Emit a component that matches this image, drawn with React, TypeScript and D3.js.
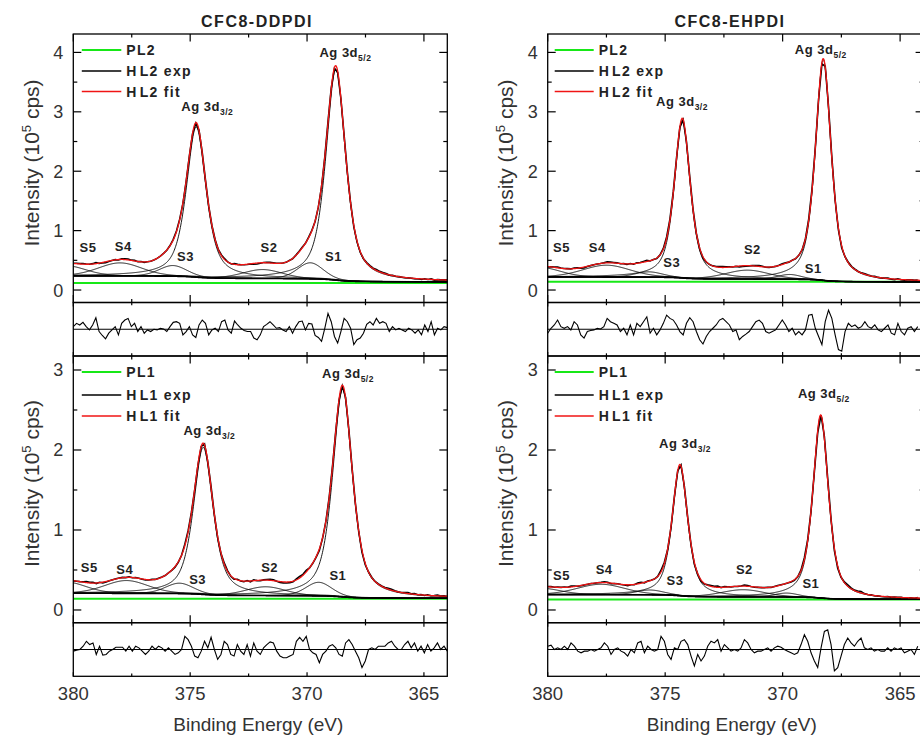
import React from "react";
import * as d3 from "d3";

const panelTitles = ["CFC8-DDPDI", "CFC8-EHPDI"];
const legendTop = ["PL2", "HL2 exp", "HL2 fit"];
const legendBottom = ["PL1", "HL1 exp", "HL1 fit"];
const xMajorTicks = [380, 375, 370, 365];
const xMinorTicks = [377.5, 372.5, 367.5];
const yMajorTop = [0, 1, 2, 3, 4];
const yMinorTop = [0.5, 1.5, 2.5, 3.5];
const yMajorBottom = [0, 1, 2, 3];
const yMinorBottom = [0.5, 1.5, 2.5];
// order: Ag 3d5/2, Ag 3d3/2, S1, S2, S3, S4, S5
const peakNames = ["Ag 3d", "Ag 3d", "S1", "S2", "S3", "S4", "S5"];
const peakSubs = ["5/2", "3/2", "", "", "", "", ""];

// CFC8-DDPDI, HL2
const ddHL2Center = [368.77, 374.74, 369.86, 371.9, 375.74, 378.0, 380.3];
const ddHL2Height = [3.55, 2.53, 0.27, 0.15, 0.18, 0.22, 0.17];
const ddHL2Fwhm = [1.0, 1.0, 1.3, 2.0, 1.4, 2.2, 2.0];
const ddHL2Background = [0.135, 0.06, 0.045];
const ddPL2 = 0.12;
const ddHL2LabelX = [369.47, 375.38, 368.87, 371.63, 375.2, 377.86, 379.37];
const ddHL2LabelY = [3.92, 3.01, 0.49, 0.64, 0.49, 0.66, 0.64];
const ddHL2Residual = [8,18,13,21,8,-2,13,35,-7,-19,-29,-12,-2,8,-17,18,28,33,8,18,-7,8,-12,-2,-7,0,-2,3,1,-7,8,21,23,18,-17,-7,8,-17,-25,13,28,18,-17,-2,3,-7,23,28,-2,-12,25,13,3,-4,-7,-7,-27,-32,-17,8,15,23,13,3,5,-2,-7,8,-12,8,23,25,-2,18,16,-19,-25,-37,3,48,23,-22,-42,-7,33,23,3,-47,-32,-27,-12,15,23,13,33,18,23,18,-7,8,-2,3,-2,-7,3,-2,-12,-2,-17,13,-7,23,-17,3,-2,8,5];

// CFC8-EHPDI, HL2
const ehHL2Center = [368.27, 374.27, 369.7, 371.5, 375.7, 377.5, 380.3];
const ehHL2Height = [3.72, 2.66, 0.08, 0.15, 0.09, 0.2, 0.16];
const ehHL2Fwhm = [0.8, 0.8, 1.2, 2.2, 1.4, 2.4, 2.0];
const ehHL2Background = [0.135, 0.05, 0.035];
const ehPL2 = 0.14;
const ehHL2LabelX = [369.48, 375.39, 368.7, 371.29, 374.72, 377.89, 379.41];
const ehHL2LabelY = [3.98, 3.1, 0.29, 0.61, 0.39, 0.64, 0.64];
const ehHL2Residual = [-12,3,13,28,8,3,8,-2,23,13,-17,-27,-7,-4,-2,3,1,8,33,23,18,13,-7,3,-17,13,-17,18,8,23,38,-12,3,-17,-2,18,43,33,28,13,-7,-17,18,35,23,-7,-32,-45,-22,-7,3,13,28,33,23,13,-7,-2,-32,-22,-15,-7,8,23,28,18,-7,-12,-7,-2,13,28,13,-7,3,-17,-7,-17,-2,43,45,3,-22,-47,23,58,33,-17,-62,-67,-7,18,8,13,3,8,23,8,3,13,-2,-7,3,13,-12,-17,18,-7,-17,3,8,-7,8];

// CFC8-DDPDI, HL1
const ddHL1Center = [368.48, 374.44, 369.5, 371.77, 375.46, 377.73, 380.3];
const ddHL1Height = [2.6, 1.84, 0.17, 0.11, 0.13, 0.16, 0.14];
const ddHL1Fwhm = [1.0, 1.0, 1.3, 2.0, 1.4, 2.2, 2.0];
const ddHL1Background = [0.145, 0.035, 0.03];
const ddPL1 = 0.14;
const ddHL1LabelX = [369.36, 375.29, 368.68, 371.6, 374.68, 377.8, 379.32];
const ddHL1LabelY = [2.9, 2.19, 0.375, 0.48, 0.33, 0.45, 0.48];
const ddHL1Residual = [-5,-2,0,10,25,15,20,-15,10,-17,-15,-5,0,7,7,7,-5,10,-5,10,5,-5,-15,-5,10,0,10,5,-5,5,-5,-15,-10,0,40,30,10,-20,-25,-5,25,5,37,0,-30,-15,25,15,-15,-20,15,-5,-15,15,-20,20,-5,-15,5,15,23,20,-5,-20,-25,-25,-20,-15,25,37,25,40,0,-10,-15,-40,-15,-5,10,15,5,-15,-20,20,30,15,-5,-25,-55,-35,0,5,0,10,10,10,20,25,10,0,0,15,25,5,20,-5,10,-10,15,-5,5,20,0,10,-5];

// CFC8-EHPDI, HL1
const ehHL1Center = [368.38, 374.37, 369.83, 371.68, 375.65, 377.73, 380.3];
const ehHL1Height = [2.28, 1.62, 0.05, 0.09, 0.06, 0.13, 0.08];
const ehHL1Fwhm = [0.78, 0.78, 1.2, 2.2, 1.4, 2.4, 2.0];
const ehHL1Background = [0.133, 0.03, 0.03];
const ehPL1 = 0.13;
const ehHL1LabelX = [369.35, 375.26, 368.8, 371.63, 374.58, 377.6, 379.41];
const ehHL1LabelY = [2.65, 2.02, 0.27, 0.45, 0.31, 0.45, 0.375];
const ehHL1Residual = [10,13,0,5,0,10,0,20,10,-5,-10,-5,-5,0,-5,0,5,20,10,-15,0,5,-5,-10,-20,0,-10,20,25,-10,10,0,-5,0,40,25,-15,-30,5,0,25,30,15,-20,-50,-15,-35,-20,10,25,20,30,-5,15,5,-5,0,-5,5,30,20,0,-10,-5,-5,0,5,-5,5,10,7,0,-5,-10,-15,-10,15,45,25,-10,-35,-55,5,55,60,15,-65,-55,-20,15,35,20,10,25,35,5,0,5,-5,0,-5,-5,5,-5,5,0,5,-10,-5,0,-15,10];

const FONT = "Arial, 'Liberation Sans', sans-serif";
const GREEN = "#17e817";
const RED = "#f01414";
const TXT = "#333";

const cols = [
  { x0: 73.3, x1: 447.3, resEnd: 364.0, legLine: [8.5, 48], legText: 53 },
  { x0: 547.7, x1: 923.6, resEnd: 364.25, legLine: [7, 46], legText: 51 },
];
const rows = [
  { main: [34, 302.5], yDom: [-0.21, 4.31], res: [302.5, 356], major: yMajorTop, minor: yMinorTop, legend: legendTop, ylab: 163, legY: [16, 37, 57.5] },
  { main: [356, 622.7], yDom: [-0.159, 3.175], res: [622.7, 676.3], major: yMajorBottom, minor: yMinorBottom, legend: legendBottom, ylab: 483.5, legY: [16, 39, 60] },
];

const panels = [
  { row: 0, col: 0, c: ddHL2Center, h: ddHL2Height, w: ddHL2Fwhm, bg: ddHL2Background, pl: ddPL2, lx: ddHL2LabelX, ly: ddHL2LabelY, res: ddHL2Residual },
  { row: 0, col: 1, c: ehHL2Center, h: ehHL2Height, w: ehHL2Fwhm, bg: ehHL2Background, pl: ehPL2, lx: ehHL2LabelX, ly: ehHL2LabelY, res: ehHL2Residual },
  { row: 1, col: 0, c: ddHL1Center, h: ddHL1Height, w: ddHL1Fwhm, bg: ddHL1Background, pl: ddPL1, lx: ddHL1LabelX, ly: ddHL1LabelY, res: ddHL1Residual },
  { row: 1, col: 1, c: ehHL1Center, h: ehHL1Height, w: ehHL1Fwhm, bg: ehHL1Background, pl: ehPL1, lx: ehHL1LabelX, ly: ehHL1LabelY, res: ehHL1Residual },
];

function pv(E: number, c: number, h: number, w: number, eta: number) {
  const x = (E - c) / (w / 2);
  return h * (eta * (1 / (1 + x * x)) + (1 - eta) * Math.exp(-Math.LN2 * x * x));
}

function Panel({ p, idx }: { p: any; idx: number }) {
  const col = cols[p.col];
  const row = rows[p.row];
  const x = d3.scaleLinear().domain([380, 364]).range([col.x0, col.x1]);
  const y = d3.scaleLinear().domain(row.yDom).range([row.main[1], row.main[0]]);
  const yr = d3.scaleLinear().domain([-81.5, 81.5]).range([row.res[1], row.res[0]]);
  const grid = d3.range(363.9, 380.6, 0.02);
  const etaOf = (i: number) => (i < 2 ? 0.65 : 0.2);
  const bgF = (E: number) =>
    p.bg[0] +
    p.bg[1] * (0.5 + Math.atan((E - p.c[0]) / (p.w[0] / 2)) / Math.PI) +
    p.bg[2] * (0.5 + Math.atan((E - p.c[1]) / (p.w[1] / 2)) / Math.PI);
  const comp = (i: number, E: number) => pv(E, p.c[i], p.h[i], p.w[i], etaOf(i));
  const fitF = (E: number) => bgF(E) + p.c.reduce((s: number, _: number, i: number) => s + comp(i, E), 0);
  const line = d3.line<[number, number]>().x((d) => x(d[0])).y((d) => y(d[1]));
  const resE = p.res.map((_: number, i: number) => 380 - (i * (380 - col.resEnd)) / (p.res.length - 1));
  const expPts: [number, number][] = resE.map((E: number, i: number) => [E, fitF(E) + p.res[i] * 0.0005]);
  const resLine = d3.line<[number, number]>().x((d) => x(d[0])).y((d) => yr(d[1]));
  const clipId = `clip${idx}`;
  const clipR = `clipr${idx}`;
  const [m0, m1] = row.main;
  const [r0, r1] = row.res;
  const tickStroke = { stroke: "#000", strokeWidth: 1.2 };
  return (
    <g>
      <defs>
        <clipPath id={clipId}>
          <rect x={col.x0} y={m0} width={col.x1 - col.x0} height={m1 - m0} />
        </clipPath>
        <clipPath id={clipR}>
          <rect x={col.x0} y={r0} width={col.x1 - col.x0} height={r1 - r0} />
        </clipPath>
      </defs>
      <g clipPath={`url(#${clipId})`} fill="none">
        <line x1={col.x0} x2={col.x1} y1={y(p.pl)} y2={y(p.pl)} stroke={GREEN} strokeWidth={2} />
        {p.c.map((_: number, i: number) => (
          <path key={i} d={line(grid.map((E) => [E, bgF(E) + comp(i, E)]) as any) || ""} stroke="#000" strokeWidth={0.9} />
        ))}
        <path d={line(grid.map((E) => [E, bgF(E)]) as any) || ""} stroke="#000" strokeWidth={1.6} />
        <path d={line(expPts) || ""} stroke="#000" strokeWidth={1.6} />
        <path d={line(grid.map((E) => [E, fitF(E)]) as any) || ""} stroke={RED} strokeWidth={1.3} />
      </g>
      <rect x={col.x0} y={m0} width={col.x1 - col.x0} height={m1 - m0} fill="none" stroke="#000" strokeWidth={1.3} />
      <rect x={col.x0} y={r0} width={col.x1 - col.x0} height={r1 - r0} fill="none" stroke="#000" strokeWidth={1.3} />
      {xMajorTicks.concat(xMinorTicks).map((t) => {
        const major = xMajorTicks.includes(t);
        const L = major ? 7.5 : 3.5;
        const l2 = major ? 4 : 2.7;
        return (
          <g key={t}>
            <line x1={x(t)} x2={x(t)} y1={m1} y2={m1 - L} {...tickStroke} />
            <line x1={x(t)} x2={x(t)} y1={m0} y2={m0 + L} {...tickStroke} />
            <line x1={x(t)} x2={x(t)} y1={r0} y2={r0 + l2} {...tickStroke} />
            <line x1={x(t)} x2={x(t)} y1={r1} y2={r1 - l2} {...tickStroke} />
          </g>
        );
      })}
      {row.major.concat(row.minor).map((t: number) => {
        const major = row.major.includes(t);
        const L = major ? 8 : 4;
        return (
          <g key={t}>
            <line x1={col.x0} x2={col.x0 + L} y1={y(t)} y2={y(t)} {...tickStroke} />
            <line x1={col.x1} x2={col.x1 - L} y1={y(t)} y2={y(t)} {...tickStroke} />
          </g>
        );
      })}
      {row.major.map((t: number) => (
        <text key={t} x={col.x0 - 10} y={y(t)} dy="0.36em" textAnchor="end" fontSize={18} fill={TXT} fontFamily={FONT}>
          {t}
        </text>
      ))}
      <line x1={col.x0} x2={col.x1} y1={yr(0)} y2={yr(0)} stroke="#000" strokeWidth={1.2} />
      <g clipPath={`url(#${clipR})`}>
        <path d={resLine(resE.map((E: number, i: number) => [E, p.res[i]])) || ""} fill="none" stroke="#000" strokeWidth={1.1} />
      </g>
      {peakNames.map((n, i) => (
        <text
          key={i}
          x={x(p.lx[i])}
          y={y(p.ly[i])}
          textAnchor={i < 2 ? "start" : "middle"}
          fontSize={13}
          fontWeight="bold"
          letterSpacing={0.5}
          fill="#222"
          fontFamily={FONT}
        >
          {n}
          {peakSubs[i] ? (
            <tspan fontSize={8.5} dy={4}>
              {peakSubs[i]}
            </tspan>
          ) : null}
        </text>
      ))}
      {row.legend.map((name: string, i: number) => {
        const ly = m0 + row.legY[i];
        const color = i === 0 ? GREEN : i === 1 ? "#000" : RED;
        const parts = name.startsWith("H") ? [name.slice(0, 1), name.slice(1)] : [name];
        return (
          <g key={name}>
            <line x1={col.x0 + col.legLine[0]} x2={col.x0 + col.legLine[1]} y1={ly} y2={ly} stroke={color} strokeWidth={i === 0 ? 2 : 1.3} />
            <text x={col.x0 + col.legText} y={ly} dy="0.36em" fontSize={14} fontWeight="bold" letterSpacing={1.3} fill="#222" fontFamily={FONT}>
              {parts.length === 2 ? (
                <>
                  <tspan>{parts[0]}</tspan>
                  <tspan dx={2}>{parts[1]}</tspan>
                </>
              ) : (
                parts[0]
              )}
            </text>
          </g>
        );
      })}
      <text
        transform={`translate(${col.x0 - 42},${row.ylab}) rotate(-90)`}
        textAnchor="middle"
        dy="0.35em"
        fontSize={21}
        fill={TXT}
        fontFamily={FONT}
      >
        Intensity (10
        <tspan fontSize={13} dy={-8}>
          5
        </tspan>
        <tspan dy={8}> cps)</tspan>
      </text>
      {p.row === 1 &&
        xMajorTicks.map((t) => (
          <text key={t} x={x(t)} y={700} textAnchor="middle" fontSize={18.5} fill={TXT} fontFamily={FONT}>
            {t}
          </text>
        ))}
      {p.row === 1 && (
        <text x={(col.x0 + Math.min(col.x1, 920)) / 2 - 2} y={731} textAnchor="middle" fontSize={19} fill={TXT} fontFamily={FONT}>
          Binding Energy (eV)
        </text>
      )}
      {p.row === 0 && (
        <text x={p.col === 0 ? 257 : 730} y={27} textAnchor="middle" fontSize={16} fontWeight="bold" letterSpacing={1.5} fill="#222" fontFamily={FONT}>
          {panelTitles[p.col]}
        </text>
      )}
    </g>
  );
}

export default function App() {
  return (
    <svg width={920} height={736} style={{ position: "absolute", left: 0, top: 0, background: "#fff" }}>
      <rect x={0} y={0} width={920} height={736} fill="#fff" />
      {panels.map((p, i) => (
        <Panel key={i} p={p} idx={i} />
      ))}
    </svg>
  );
}
